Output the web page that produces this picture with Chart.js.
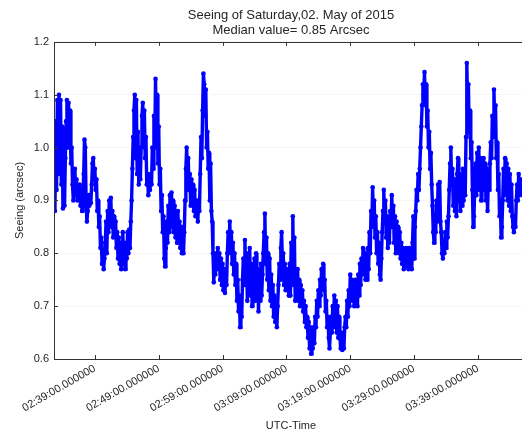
<!DOCTYPE html>
<html>
<head>
<meta charset="utf-8">
<script src="https://cdn.jsdelivr.net/npm/chart.js@4/dist/chart.umd.min.js"></script>
<style>
  html, body { margin: 0; padding: 0; background: #ffffff; overflow: hidden; }
  #wrap { position: absolute; left: 0; top: 0; width: 540px; height: 437px; }
</style>
</head>
<body>
<div id="wrap"><canvas id="c"></canvas></div>
<script>
// ---- data ----
const chartTitle = ['Seeing of Saturday,02. May of 2015', 'Median value= 0.85 Arcsec'];
const xTitle = 'UTC-Time';
const yTitle = 'Seeing (arcsec)';
const startTime = '02:32:45';     // time of first sample
const sampleSeconds = 7.5;        // sampling interval
const axisStart = '02:32:36';
const axisEnd = '03:46:50';
const tickTimes = ['02:39:00', '02:49:00', '02:59:00', '03:09:00', '03:19:00', '03:29:00', '03:39:00'];
const yMin = 0.6, yMax = 1.2, yStep = 0.1;
const seeing = [
  0.88,1.05,0.92,1.09,0.95,1.10,1.00,1.09,0.93,1.04,0.885,0.95,0.89,0.98,1.05,1.09,1.00,1.085,1.02,1.07,
  0.97,1.00,0.93,0.90,0.92,0.96,0.91,0.94,0.90,0.92,0.905,0.93,0.89,0.91,0.88,0.90,0.95,1.015,1.00,0.90,
  0.86,0.88,0.91,0.89,0.91,0.895,0.93,0.97,0.98,0.94,0.96,0.92,0.94,0.88,0.90,0.85,0.87,0.81,0.83,0.78,
  0.80,0.77,0.79,0.82,0.86,0.80,0.88,0.84,0.90,0.87,0.905,0.85,0.88,0.83,0.87,0.84,0.86,0.81,0.84,0.79,
  0.83,0.78,0.82,0.77,0.80,0.84,0.78,0.82,0.77,0.81,0.79,0.84,0.80,0.845,0.81,0.86,0.90,0.96,1.02,1.07,
  1.10,0.98,1.09,0.95,1.03,0.93,0.99,0.94,1.00,1.06,1.085,1.03,1.07,0.98,1.02,0.93,0.95,0.91,0.94,0.92,
  0.95,0.93,1.00,0.96,1.06,1.00,1.13,1.02,1.10,0.97,1.04,0.93,0.96,0.88,0.91,0.84,0.87,0.79,0.775,0.81,
  0.86,0.82,0.89,0.84,0.91,0.86,0.915,0.85,0.90,0.84,0.89,0.83,0.87,0.82,0.88,0.83,0.86,0.81,0.85,0.80,
  0.83,0.80,0.84,0.90,0.96,1.00,0.95,0.98,0.92,0.95,0.89,0.94,0.90,0.93,0.88,0.92,0.87,0.90,0.88,0.86,
  0.90,0.88,0.95,1.02,0.98,1.07,1.14,1.12,1.06,1.11,1.00,1.03,0.96,0.99,0.90,0.97,0.88,0.86,0.80,0.745,
  0.79,0.76,0.80,0.77,0.81,0.78,0.80,0.75,0.79,0.74,0.78,0.73,0.77,0.725,0.76,0.74,0.80,0.84,0.80,0.86,
  0.81,0.84,0.78,0.82,0.76,0.80,0.74,0.78,0.71,0.75,0.69,0.72,0.66,0.70,0.68,0.75,0.79,0.74,0.825,0.76,
  0.80,0.71,0.79,0.73,0.81,0.72,0.78,0.70,0.76,0.73,0.79,0.71,0.80,0.72,0.77,0.69,0.75,0.71,0.78,0.72,
  0.76,0.80,0.84,0.875,0.78,0.83,0.75,0.80,0.73,0.79,0.71,0.76,0.70,0.74,0.68,0.72,0.67,0.71,0.66,0.70,
  0.74,0.78,0.75,0.81,0.84,0.78,0.80,0.74,0.78,0.73,0.77,0.74,0.76,0.72,0.78,0.72,0.82,0.74,0.87,0.76,
  0.83,0.71,0.76,0.72,0.77,0.71,0.75,0.70,0.74,0.71,0.73,0.69,0.71,0.67,0.70,0.66,0.68,0.64,0.67,0.62,
  0.66,0.61,0.65,0.62,0.66,0.63,0.68,0.66,0.71,0.68,0.73,0.70,0.75,0.72,0.77,0.74,0.78,0.73,0.75,0.69,
  0.71,0.66,0.68,0.64,0.62,0.65,0.68,0.65,0.70,0.66,0.72,0.67,0.71,0.65,0.70,0.64,0.68,0.64,0.62,0.65,
  0.617,0.64,0.62,0.66,0.68,0.66,0.71,0.68,0.73,0.70,0.76,0.72,0.75,0.71,0.74,0.70,0.75,0.71,0.74,0.70,
  0.76,0.72,0.78,0.74,0.79,0.76,0.81,0.77,0.80,0.75,0.79,0.75,0.81,0.77,0.84,0.80,0.88,0.85,0.925,0.87,
  0.90,0.83,0.87,0.80,0.84,0.78,0.82,0.76,0.75,0.79,0.84,0.88,0.92,0.86,0.90,0.83,0.87,0.81,0.86,0.82,
  0.88,0.85,0.91,0.86,0.89,0.82,0.87,0.80,0.86,0.81,0.85,0.80,0.84,0.79,0.82,0.78,0.81,0.77,0.80,0.775,
  0.81,0.78,0.80,0.77,0.81,0.78,0.80,0.77,0.82,0.87,0.79,0.85,0.88,0.92,0.90,0.95,0.92,0.96,1.00,1.04,
  1.08,1.12,1.10,1.143,1.08,1.12,1.04,1.07,1.00,1.03,0.96,0.99,0.93,0.89,0.84,0.82,0.87,0.84,0.90,0.86,
  0.93,0.89,0.935,0.86,0.84,0.80,0.79,0.82,0.80,0.84,0.81,0.86,0.83,0.87,0.92,0.97,1.00,0.93,0.96,0.89,
  0.94,0.88,0.93,0.87,0.95,0.98,0.90,0.95,0.88,0.94,0.89,0.96,0.90,0.95,0.91,1.02,1.16,1.08,1.12,1.03,
  1.07,0.98,1.01,0.92,0.85,0.87,0.93,0.97,0.91,0.99,0.92,1.00,0.93,0.98,0.90,0.96,0.92,0.98,0.93,0.97,
  0.90,0.96,0.88,0.94,0.92,0.97,1.01,0.98,1.06,1.02,1.11,1.04,1.08,0.98,1.01,0.92,0.95,0.87,0.90,0.83,
  0.85,0.90,0.96,0.91,0.98,0.92,0.97,0.90,0.96,0.89,0.95,0.88,0.93,0.87,0.85,0.84,0.87,0.85,0.90,0.93,
  0.90,0.95,0.91,0.94,0.92,0.93,0.91,0.94
];

// ---- helpers ----
function toSec(s) {
  const p = s.split(':').map(Number);
  return p[0] * 3600 + p[1] * 60 + p[2];
}
function pad2(n) { return String(n).padStart(2, '0'); }
function fmtTime(sec) {
  const h = Math.floor(sec / 3600), m = Math.floor((sec % 3600) / 60), s = Math.round(sec % 60);
  return pad2(h) + ':' + pad2(m) + ':' + pad2(s) + '.000000';
}

const t0 = toSec(startTime);
const points = seeing.map((v, i) => ({ x: t0 + i * sampleSeconds, y: v }));
const tickSecs = tickTimes.map(toSec);

const FONT = "'Liberation Sans', Arial, sans-serif";
const TXT = '#262626';

const frameAndTicks = {
  id: 'frameAndTicks',
  afterDraw(chart) {
    const { ctx, chartArea: a, scales: { x, y } } = chart;
    ctx.save();
    ctx.strokeStyle = '#333333';
    ctx.lineWidth = 1;
    ctx.beginPath();
    x.ticks.forEach(t => {
      const px = Math.round(x.getPixelForValue(t.value)) + 0.5;
      ctx.moveTo(px, a.bottom); ctx.lineTo(px, a.bottom - 4);
      ctx.moveTo(px, a.top); ctx.lineTo(px, a.top + 4);
    });
    y.ticks.forEach(t => {
      const py = Math.round(y.getPixelForValue(t.value)) + 0.5;
      ctx.moveTo(a.left, py); ctx.lineTo(a.left + 4, py);
      ctx.moveTo(a.right, py); ctx.lineTo(a.right - 4, py);
    });
    ctx.stroke();
    ctx.strokeRect(Math.round(a.left) + 0.5, Math.round(a.top) + 0.5,
                   Math.round(a.right - a.left), Math.round(a.bottom - a.top));
    ctx.restore();
  }
};

new Chart(document.getElementById('c'), {
  type: 'scatter',
  data: {
    datasets: [{
      data: points,
      showLine: true,
      borderColor: '#0000ff',
      borderWidth: 3.4,
      backgroundColor: '#0000ff',
      pointRadius: 2.3,
      pointBorderWidth: 0,
      pointHoverRadius: 2.3,
      tension: 0
    }]
  },
  options: {
    responsive: true,
    maintainAspectRatio: false,
    animation: false,
    events: [],
    layout: { padding: { left: 0, right: 12, top: 0, bottom: 0 } },
    plugins: {
      legend: { display: false },
      tooltip: { enabled: false },
      title: {
        display: true,
        text: chartTitle,
        fullSize: false,
        color: TXT,
        font: { family: FONT, size: 13, weight: 'normal', lineHeight: 1.15 },
        padding: { top: 8, bottom: 4 }
      }
    },
    scales: {
      x: {
        type: 'linear',
        min: toSec(axisStart),
        max: toSec(axisEnd),
        afterBuildTicks(scale) { scale.ticks = tickSecs.map(v => ({ value: v })); },
        afterFit(scale) { scale.height = 78; },
        grid: { display: false, drawTicks: false },
        border: { display: false },
        ticks: {
          autoSkip: false,
          minRotation: 30,
          maxRotation: 30,
          padding: 3,
          color: TXT,
          font: { family: FONT, size: 11 },
          callback: (v) => fmtTime(v)
        },
        title: {
          display: true,
          text: xTitle,
          color: TXT,
          font: { family: FONT, size: 11 },
          padding: { top: 0, bottom: 4 }
        }
      },
      y: {
        min: yMin,
        max: yMax,
        afterFit(scale) { scale.width = 54; },
        grid: { display: true, drawTicks: false, color: '#f6f6f6' },
        border: { display: false },
        ticks: {
          stepSize: yStep,
          padding: 5,
          color: TXT,
          font: { family: FONT, size: 11 },
          callback: (v) => Number(v).toFixed(1)
        },
        title: {
          display: true,
          text: yTitle,
          color: TXT,
          font: { family: FONT, size: 11 },
          padding: { top: 13, bottom: 0 }
        }
      }
    }
  },
  plugins: [frameAndTicks]
});
</script>
</body>
</html>
